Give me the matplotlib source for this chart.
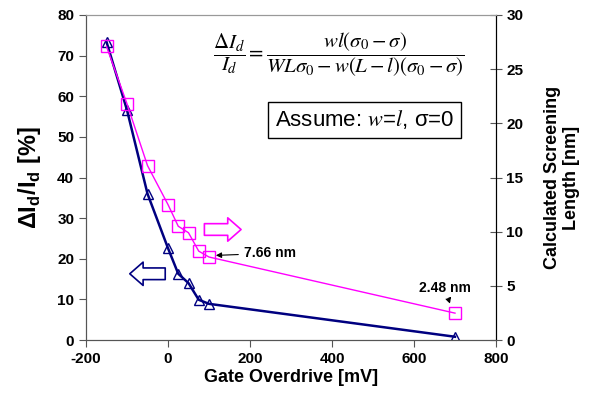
import matplotlib
matplotlib.use('Agg')
import matplotlib.pyplot as plt

plt.rcParams['font.family'] = ['Liberation Sans', 'DejaVu Sans']
plt.rcParams['axes.unicode_minus'] = False
plt.rcParams['mathtext.fontset'] = 'custom'
plt.rcParams['mathtext.rm'] = 'Liberation Sans:bold'
plt.rcParams['mathtext.bf'] = 'Liberation Sans:bold'

# data
gate_mv = [-150, -100, -50, 0, 25, 50, 75, 100, 700]
delta_id = [73.4, 56.6, 36.0, 22.6, 16.3, 14.0, 9.9, 8.9, 0.8]
screen_nm = [27.1, 21.8, 16.1, 12.5, 10.5, 9.9, 8.2, 7.66, 2.48]

xticks = [-200, 0, 200, 400, 600, 800]
yticks_left = [0, 10, 20, 30, 40, 50, 60, 70, 80]
yticks_right = [0, 5, 10, 15, 20, 25, 30]

fig = plt.figure(figsize=(5.96, 4.03), dpi=100)
ax = fig.add_axes([86/596, 1 - 340/403, (496-86)/596, (340-15)/403])
ax2 = ax.twinx()

ax.plot(gate_mv, delta_id, '-', color='#000080', linewidth=1.8, marker='^',
        markersize=7, markerfacecolor='none', markeredgecolor='#000080', zorder=3)
ax2.plot(gate_mv, screen_nm, '-', color='#ff00ff', linewidth=1.0, marker='s',
         markersize=9, markerfacecolor='none', markeredgecolor='#ff00ff', zorder=3)

ax.set_xlim(-200, 800)
ax.set_ylim(0, 80)
ax2.set_ylim(0, 30)
ax.set_xticks(xticks, labels=[str(t) for t in xticks], fontweight='bold')
ax.set_yticks(yticks_left, labels=[str(t) for t in yticks_left], fontweight='bold')
ax2.set_yticks(yticks_right, labels=[str(t) for t in yticks_right], fontweight='bold')

ax.tick_params(axis='both', direction='out', length=5, color='#555555', labelsize=11)
ax2.tick_params(axis='y', direction='inout', length=8, color='#555555', labelsize=11)

for a in (ax, ax2):
    a.spines['top'].set_color('#999999')
    a.spines['bottom'].set_color('#555555')
    a.spines['left'].set_color('#555555')
ax2.spines['right'].set_color('black')

ax.set_xlabel('Gate Overdrive [mV]', fontsize=13, fontweight='bold', labelpad=2)
ax.set_ylabel('ΔI$_\\mathbf{d}$/I$_\\mathbf{d}$ [%]', fontsize=17, fontweight='bold', labelpad=10)
ax2.set_ylabel('Calculated Screening\nLength [nm]', fontsize=13, fontweight='bold',
               labelpad=15, linespacing=1.1)

# equation and assumption box
ax.text(0.617, 0.877,
        r'$\dfrac{\Delta I_d}{I_d}=\dfrac{wl(\sigma_0-\sigma)}{WL\sigma_0-w(L-l)(\sigma_0-\sigma)}$',
        transform=ax.transAxes, ha='center', va='center', fontsize=15,
        math_fontfamily='stix')
ax.text(0.68, 0.677, 'Assume: $w$=$l$, σ=0', transform=ax.transAxes,
        ha='center', va='center', fontsize=16, math_fontfamily='stix',
        bbox=dict(boxstyle='square,pad=0.3', facecolor='white', edgecolor='black', linewidth=1))

# hollow direction arrows
arrow_style = 'simple,head_length=0.8,head_width=1.4,tail_width=0.7'
ax2.annotate('', xy=(185, 10.2), xytext=(82, 10.2),
             arrowprops=dict(arrowstyle=arrow_style, mutation_scale=12,
                             facecolor='white', edgecolor='#ff00ff', linewidth=1.2))
ax.annotate('', xy=(-100, 16.3), xytext=(0, 16.3),
            arrowprops=dict(arrowstyle=arrow_style, mutation_scale=12,
                            facecolor='white', edgecolor='#000080', linewidth=1.2))

# value callouts
ax2.annotate('7.66 nm', xy=(110, 7.8), xytext=(185, 8.0), fontsize=10, fontweight='bold',
             va='center', arrowprops=dict(arrowstyle='-|>', color='black', linewidth=0.8,
                                          mutation_scale=8))
ax2.annotate('2.48 nm', xy=(690, 3.1), xytext=(675, 4.8), fontsize=10, fontweight='bold',
             ha='center', va='center', arrowprops=dict(arrowstyle='-|>', color='black',
                                                       linewidth=0.8, linestyle='--',
                                                       mutation_scale=8))

plt.savefig('out.png', dpi=100)
